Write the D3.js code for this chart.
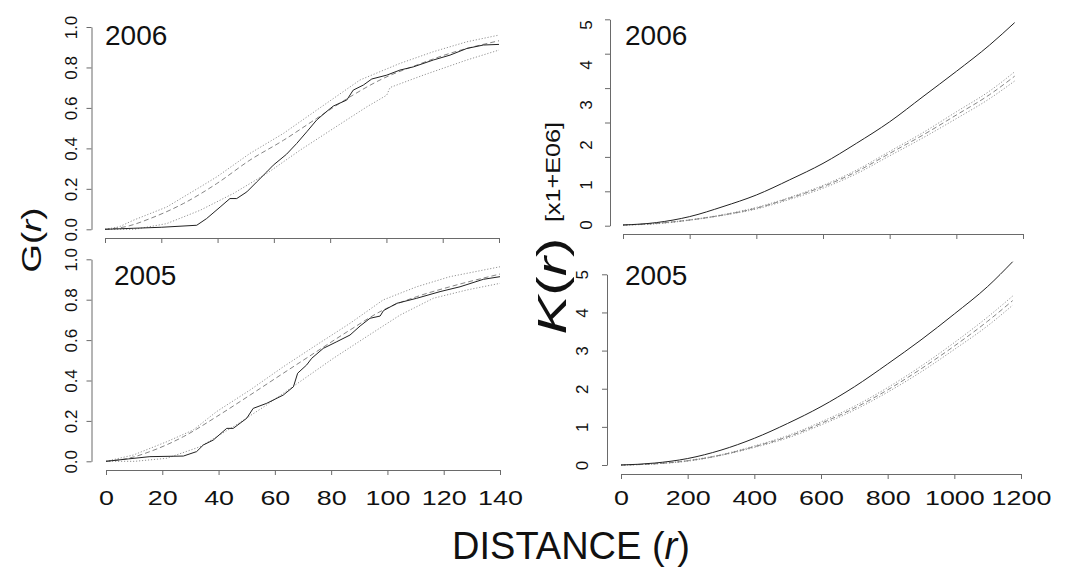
<!DOCTYPE html>
<html>
<head>
<meta charset="utf-8">
<script src="https://cdn.jsdelivr.net/npm/d3@7"></script>
<style>
  html, body { margin: 0; padding: 0; background: #fff; }
  svg { display: block; }
  text { font-family: "Liberation Sans", Arial, Helvetica, sans-serif; fill: #111; }
</style>
</head>
<body>
<svg id="chart" width="1082" height="568"></svg>
<script>
// ---------------- DATA ----------------
const years = ["2006", "2005"];
const gTicks = [0, 0.2, 0.4, 0.6, 0.8, 1.0];
const gXTicks = [0, 20, 40, 60, 80, 100, 120, 140];
const kXTicks = [0, 200, 400, 600, 800, 1000, 1200];
const kYLabels = [0, 1, 2, 3, 4, 5];
const kYTicksTop = [0, 1, 2, 3, 4, 5, 6];

// G(r) 2006 : [r, G]
const gObs2006 = [[0,0],[10,0.005],[20,0.01],[32.6,0.02],[36.1,0.053],[40.9,0.11],[44.4,0.152],[46.8,0.152],[50.4,0.185],[53.9,0.234],[57.5,0.284],[59.8,0.317],[64.5,0.371],[68.1,0.424],[71.7,0.482],[75.2,0.54],[78.2,0.576],[81.1,0.609],[85.9,0.639],[88.2,0.688],[91.8,0.713],[94.8,0.743],[100.1,0.762],[104.8,0.787],[109.6,0.803],[116.7,0.837],[122.6,0.861],[128.6,0.894],[134.5,0.911],[140,0.914]];
const gTheo2006 = [[0,0],[8,0.015],[16,0.053],[27.8,0.127],[39.7,0.226],[51.5,0.342],[63.4,0.44],[75.2,0.548],[87.1,0.655],[98.9,0.746],[110.8,0.812],[122.6,0.87],[140,0.932]];
const gHi2006 = [[0,0],[5,0.012],[10.1,0.045],[21.9,0.11],[33.8,0.209],[39.7,0.259],[45.6,0.317],[51.5,0.375],[63.4,0.474],[75.2,0.589],[90.6,0.738],[104.8,0.82],[116.7,0.878],[128.6,0.927],[140,0.96]];
const gLo2006 = [[0,0],[10.5,0],[21.9,0.028],[33.8,0.094],[45.6,0.177],[57.5,0.276],[69.3,0.391],[81.1,0.498],[93,0.605],[100.1,0.663],[101.3,0.701],[113.1,0.762],[128.6,0.837],[140,0.886]];

// G(r) 2005 : [r, G]
const gObs2005 = [[0,0],[8,0.012],[15.6,0.023],[27.5,0.026],[32.2,0.048],[34.6,0.081],[38.1,0.105],[42.9,0.163],[45.2,0.163],[50,0.213],[52.3,0.262],[57.1,0.287],[63,0.328],[66.6,0.369],[68.1,0.436],[71.3,0.477],[73.1,0.51],[77.2,0.559],[82,0.592],[86.7,0.625],[90.3,0.67],[93.8,0.708],[97.4,0.719],[98.6,0.746],[103.3,0.782],[110.4,0.807],[118.7,0.84],[125.8,0.864],[134.1,0.901],[140,0.914]];
const gTheo2005 = [[0,0],[8,0.015],[15.6,0.048],[27.5,0.122],[39.3,0.221],[51.2,0.328],[63,0.436],[74.8,0.543],[86.7,0.65],[98.5,0.749],[110.4,0.815],[122.2,0.864],[140,0.927]];
const gHi2005 = [[0,0],[9.7,0.031],[21.6,0.097],[31,0.155],[39.3,0.246],[51.2,0.353],[63,0.468],[74.8,0.576],[86.7,0.683],[98.5,0.799],[110.4,0.864],[122.2,0.914],[140,0.963]];
const gLo2005 = [[0,0],[10.3,0],[21.6,0.015],[33.4,0.072],[45.2,0.171],[57.1,0.279],[68.9,0.394],[80.8,0.51],[92.6,0.617],[104.5,0.724],[116.3,0.807],[128.2,0.848],[140,0.881]];

// K(r) [x1E06] sampled at rK
const rK = [0, 100, 200, 300, 400, 500, 600, 700, 800, 900, 1000, 1100, 1175];
const kObs2006  = [0, 0.06, 0.21, 0.46, 0.75, 1.13, 1.54, 2.04, 2.58, 3.21, 3.84, 4.50, 5.06];
const kTheo2006 = [0, 0.04, 0.125, 0.25, 0.42, 0.67, 0.96, 1.33, 1.79, 2.25, 2.75, 3.26, 3.72];
const kHi2006   = [0, 0.04, 0.13, 0.26, 0.44, 0.69, 0.99, 1.37, 1.84, 2.31, 2.83, 3.35, 3.83];
const kLo2006   = [0, 0.03, 0.12, 0.24, 0.40, 0.64, 0.92, 1.28, 1.73, 2.18, 2.66, 3.16, 3.60];
const kObs2005  = [0, 0.05, 0.17, 0.39, 0.70, 1.09, 1.53, 2.05, 2.65, 3.28, 3.96, 4.68, 5.33];
const kTheo2005 = [0, 0.03, 0.11, 0.26, 0.48, 0.74, 1.09, 1.49, 1.97, 2.52, 3.12, 3.77, 4.31];
const kHi2005   = [0, 0.03, 0.12, 0.27, 0.50, 0.77, 1.13, 1.54, 2.03, 2.59, 3.21, 3.88, 4.43];
const kLo2005   = [0, 0.03, 0.10, 0.25, 0.46, 0.71, 1.05, 1.44, 1.91, 2.44, 3.03, 3.65, 4.19];

// ---------------- DRAW ----------------
const svg = d3.select("#chart");
const AXIS = "#6a6a6a";
const fmt1 = d3.format(".1f");

const styles = {
  obs:  {stroke: "#222", dash: null, width: 1},
  theo: {stroke: "#777", dash: "5,3", width: 0.9},
  env:  {stroke: "#888", dash: "1.2,1.8", width: 0.9}
};

function drawSeries(g, x, y, pts, st, curve) {
  const line = d3.line().x(d => x(d[0])).y(d => y(d[1])).curve(curve || d3.curveLinear);
  g.append("path").datum(pts)
    .attr("d", line).attr("fill", "none")
    .attr("stroke", st.stroke).attr("stroke-width", st.width)
    .attr("stroke-dasharray", st.dash);
}

function styleAxis(sel) {
  sel.select(".domain").attr("stroke", AXIS).attr("stroke-width", 1);
  sel.selectAll(".tick line").attr("stroke", AXIS).attr("stroke-width", 1);
  sel.selectAll(".tick text").attr("fill", "#111");
}

function xAxis(x, yPos, ticks, labels, baseline) {
  const ax = d3.axisBottom(x).tickValues(ticks).tickSize(5).tickSizeOuter(0)
    .tickFormat(labels ? d3.format("d") : () => "");
  const g = svg.append("g").attr("transform", `translate(0,${yPos})`).call(ax);
  styleAxis(g);
  g.selectAll(".tick text")
    .attr("y", 0).attr("dy", null)
    .attr("font-size", 21)
    .attr("font-family", "Liberation Sans, Arial, sans-serif")
    .attr("transform", `translate(0,${baseline}) scale(1.28,1)`);
  return g;
}

function yAxis(y, xPos, ticks, format, offset) {
  const ax = d3.axisLeft(y).tickValues(ticks).tickSize(5).tickSizeOuter(0).tickFormat(format);
  const g = svg.append("g").attr("transform", `translate(${xPos},0)`).call(ax);
  styleAxis(g);
  g.selectAll(".tick text")
    .attr("x", 0).attr("dy", "0.35em")
    .attr("text-anchor", "middle")
    .attr("font-size", 17)
    .attr("font-family", "Liberation Sans, Arial, sans-serif")
    .attr("transform", `translate(${offset},0) rotate(-90)`);
  return g;
}

function yearLabel(text, x, y) {
  svg.append("text").attr("x", x).attr("y", y).attr("font-size", 28).text(text);
}

// ---- G panels ----
const gPanels = [
  {year: years[0], x0: 105, x1: 499, yb: 229.3, yt: 27, axX: 91.5, axY: 238, lab: false,
   obs: gObs2006, theo: gTheo2006, hi: gHi2006, lo: gLo2006, yearX: 105, yearY: 45},
  {year: years[1], x0: 106, x1: 500, yb: 461.3, yt: 259.3, axX: 91.5, axY: 470, lab: true,
   obs: gObs2005, theo: gTheo2005, hi: gHi2005, lo: gLo2005, yearX: 114, yearY: 285}
];
gPanels.forEach(p => {
  const x = d3.scaleLinear().domain([0, 140]).range([p.x0, p.x1]);
  const y = d3.scaleLinear().domain([0, 1]).range([p.yb, p.yt]);
  const g = svg.append("g");
  drawSeries(g, x, y, p.hi, styles.env);
  drawSeries(g, x, y, p.lo, styles.env);
  drawSeries(g, x, y, p.theo, styles.theo, d3.curveMonotoneX);
  drawSeries(g, x, y, p.obs, styles.obs);
  xAxis(x, p.axY, gXTicks, p.lab, 35);
  yAxis(y, p.axX, gTicks, fmt1, -20);
  yearLabel(p.year, p.yearX, p.yearY);
});

// ---- K panels ----
const kPanels = [
  {year: years[0], x0: 623, x1: 1023, axX: 610, axY: 234, lab: false,
   obs: kObs2006, theo: kTheo2006, hi: kHi2006, lo: kLo2006, yearX: 625, yearY: 45, top: true},
  {year: years[1], x0: 621, x1: 1021, axX: 607, axY: 474, lab: true,
   obs: kObs2005, theo: kTheo2005, hi: kHi2005, lo: kLo2005, yearX: 625, yearY: 285, top: false}
];
kPanels.forEach(p => {
  const x = d3.scaleLinear().domain([0, 1200]).range([p.x0, p.x1]);
  const y = p.top
    ? d3.scaleLinear().domain([0, 5]).range([225, 25])
    : d3.scaleLinear().domain([0, 5]).range([465, 274.3]);
  const g = svg.append("g");
  const pairs = vals => rK.map((r, i) => [r, vals[i]]);
  drawSeries(g, x, y, pairs(p.hi), styles.env, d3.curveMonotoneX);
  drawSeries(g, x, y, pairs(p.lo), styles.env, d3.curveMonotoneX);
  drawSeries(g, x, y, pairs(p.theo), styles.theo, d3.curveMonotoneX);
  drawSeries(g, x, y, pairs(p.obs), styles.obs, d3.curveMonotoneX);
  xAxis(x, p.axY, kXTicks, p.lab, 31);
  if (p.top) {
    // tick marks on their own scale, labels on the value scale
    const yt = d3.scaleLinear().domain([0, 6]).range([225.7, 19.3]);
    yAxis(yt, p.axX, kYTicksTop, () => "", -24);
    svg.append("g").selectAll("text").data(kYLabels).join("text")
      .attr("text-anchor", "middle").attr("dy", "0.35em")
      .attr("font-size", 17)
      .attr("transform", d => `translate(${p.axX - 24},${y(d)}) rotate(-90)`)
      .text(d => d);
  } else {
    yAxis(y, p.axX, kYLabels, d3.format("d"), -25);
  }
  yearLabel(p.year, p.yearX, p.yearY);
});

// ---- Axis titles ----
const gTitle = svg.append("text")
  .attr("transform", "translate(41,240) rotate(-90)")
  .attr("text-anchor", "middle").attr("font-size", 27)
  .attr("textLength", 65).attr("lengthAdjust", "spacingAndGlyphs");
gTitle.append("tspan").text("G(");
gTitle.append("tspan").attr("font-style", "italic").text("r");
gTitle.append("tspan").text(")");

const kTitle = svg.append("text")
  .attr("transform", "translate(566,286) rotate(-90)")
  .attr("text-anchor", "middle").attr("font-size", 40)
  .attr("textLength", 97).attr("lengthAdjust", "spacingAndGlyphs");
kTitle.append("tspan").attr("font-style", "italic").text("K");
kTitle.append("tspan").text("(");
kTitle.append("tspan").attr("font-style", "italic").text("r");
kTitle.append("tspan").text(")");

svg.append("text")
  .attr("transform", "translate(560,172) rotate(-90)")
  .attr("text-anchor", "middle").attr("font-size", 20)
  .attr("textLength", 100).attr("lengthAdjust", "spacingAndGlyphs")
  .text("[x1+E06]");

const dTitle = svg.append("text")
  .attr("x", 571).attr("y", 559)
  .attr("text-anchor", "middle").attr("font-size", 38);
dTitle.append("tspan").text("DISTANCE (");
dTitle.append("tspan").attr("font-style", "italic").text("r");
dTitle.append("tspan").text(")");
</script>
</body>
</html>
